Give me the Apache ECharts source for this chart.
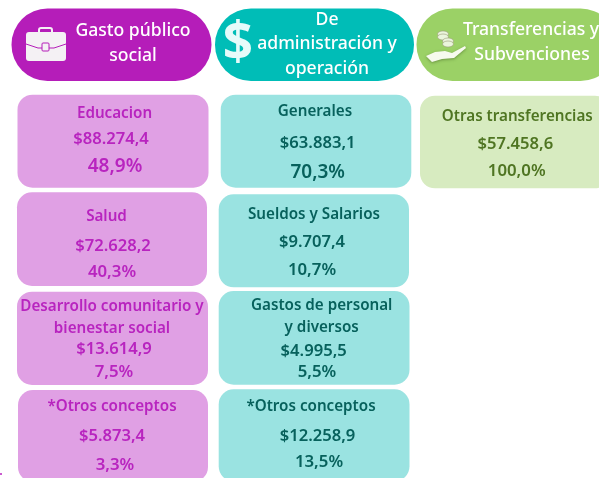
<!DOCTYPE html>
<html>
<head>
<meta charset="utf-8">
<style>
html,body{margin:0;padding:0;background:#fff;overflow:hidden}
#main{width:599px;height:478px}
</style>
<script src="https://cdn.jsdelivr.net/npm/echarts@6/dist/echarts.min.js"></script>
</head>
<body>
<div id="main"></div>
<script>
// datos
var grupos = ['Gasto público\nsocial', 'De\nadministración y\noperación', 'Transferencias y\nSubvenciones'];
var conceptos = ['Educacion', 'Salud', 'Desarrollo comunitario y\nbienestar social', '*Otros conceptos',
	'Generales', 'Sueldos y Salarios', 'Gastos de personal\ny diversos', '*Otros conceptos',
	'Otras transferencias'];
var montos = [88274.4, 72628.2, 13614.9, 5873.4, 63883.1, 9707.4, 4995.5, 12258.9, 57458.6];
var porcentajes = [48.9, 40.3, 7.5, 3.3, 70.3, 10.7, 5.5, 13.5, 100.0];
var grupoDe = [0, 0, 0, 0, 1, 1, 1, 1, 2];

// estilos y posiciones
var FONT = '"Noto Sans", Lato, sans-serif';
var colorCabecera = ['#B51DB9', '#00BDB7', '#9BD166'];
var colorCaja = ['#E0A0E4', '#9AE3E1', '#D7EBC0'];
var colorTexto = ['#B824BF', '#07615C', '#4F7522'];
var cajasCabecera = [[11.5, 8.5, 200, 72.5], [215, 8.5, 199, 72.5], [416.5, 8.5, 200, 72.5]];
var lineasCabecera = [
	[[133, 31], [133, 56]],
	[[327, 20], [327, 44], [327, 69]],
	[[531, 30], [532, 55]]
];
var cajas = [
	[17.5, 94.7, 191, 93], [17, 192.3, 190, 93.7], [17, 291.7, 191, 93.3], [18, 390, 190, 92],
	[220.7, 94.7, 190.6, 93], [218.7, 194.3, 190.3, 93], [218.7, 291, 190.8, 93.7], [218.7, 389.3, 190.8, 92],
	[420, 95.7, 190, 92.6]
];
var lineas = [
	[[114.5, 114], [111, 139], [115, 167]],
	[[106.5, 217], [113, 246], [112, 272]],
	[[112, 307], [112, 329], [114, 349], [114, 372]],
	[[112, 407], [112, 436], [115, 465]],
	[[315, 112], [317.7, 143], [317.7, 173]],
	[[314, 215], [312, 242], [312, 270]],
	[[321.7, 306], [321.7, 328], [313.7, 351], [317, 372]],
	[[311, 407], [317.5, 436], [319, 462]],
	[[517.3, 117], [515.3, 144], [516.7, 171]]
];
var porcentajeGrande = [0, 4];

function formatoMonto(v){
	var p = v.toFixed(1).split('.');
	return '$' + p[0].replace(/\B(?=(\d{3})+$)/g, '.') + ',' + p[1];
}
function formatoPct(v){
	return v.toFixed(1).replace('.', ',') + '%';
}
function texto(str, pos, font, color){
	return {
		type: 'text',
		silent: true,
		style: {text: str, x: pos[0], y: pos[1], textAlign: 'center', textVerticalAlign: 'middle', font: font, fill: color}
	};
}

var option = {
	animation: false,
	backgroundColor: '#fff',
	series: [
		{
			// cabeceras
			type: 'custom',
			coordinateSystem: 'none',
			data: grupos.map(function(g, i){ return [i]; }),
			renderItem: function(params){
				var i = params.dataIndex;
				var b = cajasCabecera[i];
				var hijos = [{
					type: 'rect',
					shape: {x: b[0], y: b[1], width: b[2], height: b[3], r: 36},
					style: {fill: colorCabecera[i]}
				}];
				grupos[i].split('\n').forEach(function(t, k){
					hijos.push(texto(t, lineasCabecera[i][k], '500 17.6px ' + FONT, '#fff'));
				});
				return {type: 'group', children: hijos};
			}
		},
		{
			// tarjetas
			type: 'custom',
			coordinateSystem: 'none',
			data: montos.map(function(m, i){ return [m, porcentajes[i]]; }),
			renderItem: function(params, api){
				var i = params.dataIndex;
				var g = grupoDe[i];
				var b = cajas[i];
				var hijos = [{
					type: 'rect',
					shape: {x: b[0], y: b[1], width: b[2], height: b[3], r: 15},
					style: {fill: colorCaja[g]}
				}];
				var nombre = conceptos[i].split('\n');
				nombre.forEach(function(t, k){
					hijos.push(texto(t, lineas[i][k], '600 15.2px ' + FONT, colorTexto[g]));
				});
				var n = nombre.length;
				hijos.push(texto(formatoMonto(api.value(0)), lineas[i][n], '600 16.6px ' + FONT, colorTexto[g]));
				var tam = porcentajeGrande.indexOf(i) >= 0 ? 19 : 16.8;
				hijos.push(texto(formatoPct(api.value(1)), lineas[i][n + 1], '600 ' + tam + 'px ' + FONT, colorTexto[g]));
				return {type: 'group', children: hijos};
			}
		}
	],
	graphic: [
		// maletin
		{type: 'rect', z: 10, shape: {x: 39, y: 28, width: 13, height: 6, r: 2}, style: {fill: 'none', stroke: '#F4F1F4', lineWidth: 2}},
		{type: 'rect', z: 10, shape: {x: 26, y: 32, width: 40, height: 29, r: 3}, style: {fill: '#F4F1F4'}},
		{type: 'polyline', z: 11, shape: {points: [[26, 44], [38, 48], [54, 48], [66, 44]]}, style: {fill: 'none', stroke: '#B51DB9', lineWidth: 1}},
		{type: 'rect', z: 11, shape: {x: 42, y: 43, width: 7, height: 8, r: 1}, style: {fill: '#F4F1F4', stroke: '#B51DB9', lineWidth: 1}},
		// signo de pesos
		{type: 'text', z: 10, style: {text: '$', x: 238, y: 45, textAlign: 'center', textVerticalAlign: 'middle', font: '700 53px ' + FONT, fill: '#E6FBFA'}},
		// monedas y mano
		{type: 'ellipse', z: 10, shape: {cx: 443, cy: 34, rx: 5.5, ry: 3}, style: {fill: '#EAF5DC', stroke: '#9A9A78', lineWidth: 0.6}},
		{type: 'ellipse', z: 10, shape: {cx: 443, cy: 37, rx: 5.5, ry: 3}, style: {fill: '#EAF5DC', stroke: '#9A9A78', lineWidth: 0.6}},
		{type: 'ellipse', z: 10, shape: {cx: 448, cy: 41, rx: 5.5, ry: 3}, style: {fill: '#EAF5DC', stroke: '#9A9A78', lineWidth: 0.6}},
		{type: 'ellipse', z: 10, shape: {cx: 448, cy: 44, rx: 5.5, ry: 3}, style: {fill: '#EAF5DC', stroke: '#9A9A78', lineWidth: 0.6}},
		{type: 'polygon', z: 10, shape: {points: [[426, 56], [435, 52], [445, 51], [452, 53], [465, 46], [466, 48], [454, 58], [442, 59], [432, 62]]},
			style: {fill: '#F6FAEE', shadowBlur: 3, shadowColor: 'rgba(60,90,30,0.5)', shadowOffsetY: 1}},
		// puntos al margen
		{type: 'circle', z: 10, shape: {cx: 1, cy: 474, r: 1}, style: {fill: '#B824BF'}}
	]
};

var chart = echarts.init(document.getElementById('main'));
chart.setOption(option);
</script>
</body>
</html>
